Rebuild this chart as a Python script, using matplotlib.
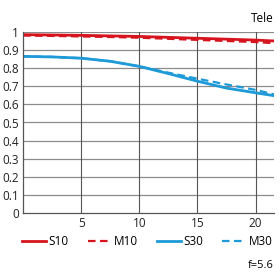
import matplotlib
matplotlib.use("Agg")
from matplotlib import pyplot as plt

# image height (mm) and contrast values
height = [0, 2.5, 5, 7.5, 10, 12.5, 15, 17.5, 20, 21.6]
s10 = [0.985, 0.983, 0.981, 0.978, 0.975, 0.970, 0.965, 0.960, 0.955, 0.950]
m10 = [0.980, 0.978, 0.975, 0.972, 0.968, 0.962, 0.956, 0.950, 0.944, 0.938]
s30 = [0.865, 0.862, 0.855, 0.838, 0.810, 0.770, 0.728, 0.690, 0.664, 0.648]
m30 = [0.865, 0.862, 0.855, 0.838, 0.810, 0.775, 0.742, 0.710, 0.680, 0.655]
yticks = [0, 0.1, 0.2, 0.3, 0.4, 0.5, 0.6, 0.7, 0.8, 0.9, 1]
ylabels = ['0', '0.1', '0.2', '0.3', '0.4', '0.5', '0.6', '0.7', '0.8', '0.9', '1']
xticks = [5, 10, 15, 20]

red = '#d7141e'
blue = '#1e9ad8'
dash = (0, (3.4, 2.0))

plt.rcParams['font.family'] = ['Open Sans', 'DejaVu Sans']
fig = plt.figure(figsize=(2.8, 2.8), dpi=100)
ax = fig.add_axes([0.082, 0.239, 0.897, 0.647])

ax.plot(height, s10, color=red, lw=2, label='S10')
ax.plot(height, m10, color=red, lw=1.6, ls=dash, label='M10')
ax.plot(height, s30, color=blue, lw=2, label='S30')
ax.plot(height, m30, color=blue, lw=1.6, ls=dash, label='M30')

ax.set_xlim(0, 21.6)
ax.set_ylim(0, 1)
ax.set_yticks(yticks)
ax.set_yticklabels(ylabels)
ax.set_xticks(xticks)
ax.tick_params(length=0, labelsize=8.5, pad=3, colors='#222222')
for y in yticks[1:]:
    ax.axhline(y, color='#8c8c8c', lw=0.9, zorder=0)
for x in xticks:
    ax.axvline(x, color='#555555', lw=0.8, zorder=0)
for s in ['top', 'right']:
    ax.spines[s].set_visible(False)
for s in ['left', 'bottom']:
    ax.spines[s].set_color('#555555')
    ax.spines[s].set_linewidth(0.9)

fig.legend(loc='center left', bbox_to_anchor=(22 / 280, 0.138), ncol=4, frameon=False,
           borderpad=0, borderaxespad=0, fontsize=8.5, handlelength=2.0,
           handletextpad=0.25, columnspacing=1.6)
fig.text(0.976, 0.935, 'Tele', ha='right', va='center', fontsize=8.5)
fig.text(0.976, 0.053, 'f=5.6', ha='right', va='center', fontsize=8)

fig.savefig('out.png', dpi=100)
